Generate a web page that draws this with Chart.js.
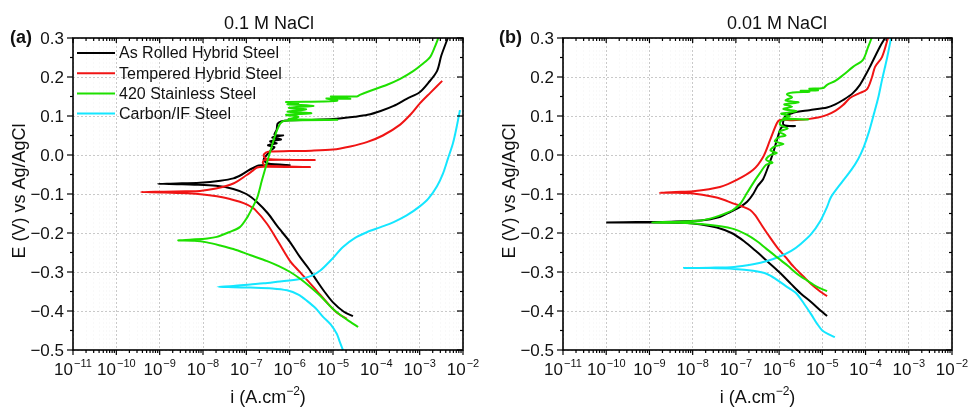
<!DOCTYPE html>
<html>
<head>
<meta charset="utf-8">
<title>Potentiodynamic polarisation curves</title>
<script src="https://cdn.jsdelivr.net/npm/chart.js@4.4.1/dist/chart.umd.min.js"></script>
<style>
  html, body { margin: 0; padding: 0; background: #fff; }
  #wrap { position: relative; width: 968px; height: 408px; overflow: hidden; }
  canvas { position: absolute; top: 0; }
  #panelA { left: 0; }
  #panelB { left: 490px; }
</style>
</head>
<body>
<div id="wrap">
  <canvas id="panelA" width="490" height="408"></canvas>
  <canvas id="panelB" width="478" height="408"></canvas>
</div>
<script>
// Each curve runs from the cathodic end, through Ecorr, then up the anodic branch.
// Current is stored as log10(i / A.cm-2), potential as E (V vs Ag/AgCl).

// ---- 0.1 M NaCl ----
const rolledLogI01 = [-4.54, -4.75, -5.0, -5.2, -5.37, -5.55, -5.76, -6.0, -6.29, -6.5, -6.75, -7.0, -7.3, -7.7, -8.2, -8.6, -9.04,
  -8.6, -8.07, -7.6, -7.3, -7.1, -6.96, -6.82, -6.72, -6.3, -6.0, -6.5, -6.6, -6.55, -6.45, -6.35, -6.5, -6.3, -6.45, -6.2, -6.4,
  -6.15, -6.35, -6.3, -6.28, -6.2, -6.0, -5.5, -5.0, -4.5, -4.2, -3.9, -3.6, -3.3, -3.0, -2.8, -2.6, -2.5, -2.35];
const rolledE01 = [-0.413, -0.402, -0.378, -0.35, -0.323, -0.293, -0.262, -0.222, -0.182, -0.15, -0.121, -0.1, -0.087, -0.079, -0.076, -0.075, -0.074,
  -0.073, -0.071, -0.066, -0.06, -0.05, -0.04, -0.032, -0.027, -0.025, -0.026, -0.022, -0.012, -0.003, 0.01, 0.02, 0.025, 0.03, 0.035, 0.04, 0.045,
  0.05, 0.052, 0.065, 0.08, 0.086, 0.089, 0.09, 0.092, 0.098, 0.103, 0.113, 0.126, 0.144, 0.161, 0.185, 0.215, 0.255, 0.3];

const temperedLogI01 = [-4.68, -4.9, -5.1, -5.37, -5.6, -5.8, -5.99, -6.25, -6.52, -6.8, -6.97, -7.15, -7.4, -7.68, -8.0, -8.37, -8.9, -9.43,
  -8.9, -8.4, -8.07, -7.7, -7.3, -7.0, -6.85, -6.75, -6.6, -5.53, -6.55, -6.62, -6.58, -5.42, -6.52, -6.6, -6.55, -6.45, -6.0, -5.5,
  -5.0, -4.6, -4.22, -3.85, -3.45, -3.2, -2.99, -2.75, -2.48];
const temperedE01 = [-0.42, -0.405, -0.383, -0.349, -0.32, -0.296, -0.272, -0.225, -0.177, -0.14, -0.128, -0.12, -0.112, -0.106, -0.101, -0.098, -0.096, -0.095,
  -0.094, -0.093, -0.092, -0.086, -0.073, -0.052, -0.04, -0.032, -0.03, -0.031, -0.027, -0.02, -0.013, -0.013, -0.01, -0.002, 0.006, 0.009, 0.01, 0.011,
  0.014, 0.022, 0.033, 0.05, 0.078, 0.105, 0.133, 0.16, 0.19];

const ss420LogI01 = [-4.42, -4.6, -4.8, -5.0, -5.25, -5.53, -5.75, -5.99, -6.25, -6.52, -6.9, -7.3, -7.6, -7.91, -8.2, -8.57,
  -8.3, -7.9, -7.68, -7.4, -7.15, -6.98, -6.85, -6.75, -6.64, -6.52, -6.42, -6.32, -6.22, -6.12, -4.9, -6.02, -5.8, -6.08, -5.5,
  -6.05, -5.62, -6.02, -5.45, -6.05, -5.8, -6.08, -5.2, -4.9, -5.15, -4.6, -5.05, -4.45, -4.38, -4.15, -3.75, -3.45, -3.15, -2.95,
  -2.76, -2.65, -2.57];
const ss420E01 = [-0.441, -0.428, -0.413, -0.395, -0.366, -0.338, -0.318, -0.3, -0.285, -0.272, -0.257, -0.241, -0.232, -0.224, -0.22, -0.219,
  -0.217, -0.214, -0.21, -0.198, -0.185, -0.16, -0.133, -0.11, -0.065, -0.018, 0.02, 0.055, 0.08, 0.088, 0.09, 0.092, 0.098, 0.103, 0.107,
  0.111, 0.117, 0.121, 0.126, 0.13, 0.133, 0.136, 0.137, 0.139, 0.145, 0.144, 0.15, 0.15, 0.154, 0.164, 0.18, 0.195, 0.215, 0.232,
  0.251, 0.277, 0.3];

const carbonLogI01 = [-4.77, -4.85, -4.91, -5.05, -5.23, -5.4, -5.6, -5.8, -6.06, -6.4, -6.91, -7.3, -7.65,
  -7.3, -6.91, -6.6, -6.29, -5.76, -5.5, -5.3, -5.05, -4.77, -4.5, -4.22, -3.9, -3.6, -3.3, -2.99, -2.8, -2.6, -2.46, -2.35,
  -2.23, -2.15, -2.07];
const carbonE01 = [-0.5, -0.477, -0.459, -0.435, -0.415, -0.393, -0.374, -0.358, -0.347, -0.342, -0.34, -0.339, -0.338,
  -0.336, -0.332, -0.329, -0.325, -0.318, -0.31, -0.297, -0.27, -0.236, -0.213, -0.198, -0.185, -0.172, -0.155, -0.131, -0.112, -0.08, -0.047, -0.01,
  0.031, 0.07, 0.115];

// ---- 0.01 M NaCl ----
const rolledLogI001 = [-4.89, -5.05, -5.26, -5.5, -5.72, -6.0, -6.28, -6.55, -6.81, -7.1, -7.44, -7.8, -8.2, -8.7, -9.3, -10.0,
  -9.3, -8.5, -7.81, -7.4, -7.11, -6.9, -6.74, -6.6, -6.5, -6.37, -6.22, -6.14, -6.03, -5.93, -5.63, -5.9, -5.85, -5.68, -5.3,
  -4.89, -4.7, -4.52, -4.3, -4.13, -4.0, -3.9, -3.67, -3.55];
const rolledE001 = [-0.413, -0.398, -0.377, -0.355, -0.331, -0.3, -0.272, -0.245, -0.221, -0.2, -0.186, -0.178, -0.174, -0.173, -0.173, -0.173,
  -0.172, -0.171, -0.168, -0.16, -0.145, -0.133, -0.12, -0.1, -0.08, -0.062, -0.02, 0.005, 0.046, 0.072, 0.074, 0.078, 0.1, 0.108, 0.115,
  0.122, 0.13, 0.141, 0.158, 0.18, 0.205, 0.226, 0.277, 0.3];

const temperedLogI001 = [-4.89, -5.05, -5.26, -5.45, -5.66, -5.85, -6.05, -6.25, -6.42, -6.55, -6.67, -6.85, -7.07, -7.3, -7.53, -7.99, -8.4, -8.76,
  -8.4, -7.99, -7.37, -6.98, -6.6, -6.37, -6.21, -6.05, -5.98, -5.68, -5.33, -5.1, -4.89, -4.7, -4.52, -4.36, -4.15, -3.97, -3.85,
  -3.78, -3.62, -3.48];
const temperedE001 = [-0.362, -0.35, -0.331, -0.31, -0.287, -0.262, -0.236, -0.205, -0.177, -0.155, -0.141, -0.132, -0.124, -0.114, -0.107, -0.099, -0.097, -0.097,
  -0.095, -0.093, -0.082, -0.064, -0.038, -0.005, 0.038, 0.082, 0.09, 0.089, 0.092, 0.096, 0.103, 0.113, 0.128, 0.146, 0.158, 0.168, 0.2,
  0.226, 0.251, 0.3];

const ss420LogI001 = [-4.89, -5.12, -5.35, -5.58, -5.8, -6.05, -6.3, -6.51, -6.75, -7.04, -7.4, -7.81, -8.3, -8.94,
  -8.3, -7.81, -7.5, -7.27, -7.07, -6.9, -6.74, -6.6, -6.44, -6.3, -6.15, -6.3, -6.2, -6.05, -6.2, -6.1, -5.9, -6.1, -6.0, -5.85,
  -6.0, -5.8, -5.98, -5.93, -5.33, -5.9, -5.75, -5.95, -5.6, -5.9, -5.7, -5.88, -5.55, -5.85, -5.7, -5.82, -5.68, -5.3, -5.5, -5.1,
  -5.3, -4.98, -4.89, -4.7, -4.52, -4.29, -4.06, -3.94, -3.86];
const ss420E001 = [-0.349, -0.338, -0.322, -0.305, -0.284, -0.262, -0.24, -0.221, -0.204, -0.19, -0.182, -0.177, -0.174, -0.173,
  -0.171, -0.168, -0.16, -0.151, -0.141, -0.125, -0.097, -0.072, -0.046, -0.025, -0.02, -0.012, 0.0, 0.005, 0.012, 0.022, 0.028, 0.035, 0.046, 0.05,
  0.06, 0.068, 0.078, 0.09, 0.091, 0.094, 0.1, 0.106, 0.112, 0.118, 0.124, 0.13, 0.135, 0.14, 0.148, 0.155, 0.16, 0.162, 0.165, 0.166,
  0.17, 0.172, 0.18, 0.19, 0.205, 0.226, 0.244, 0.277, 0.3];

const carbonLogI001 = [-4.71, -4.85, -5.0, -5.12, -5.25, -5.42, -5.6, -5.82, -6.05, -6.28, -6.6, -7.04, -7.6, -8.2,
  -7.6, -7.04, -6.6, -6.28, -6.0, -5.72, -5.5, -5.26, -5.05, -4.89, -4.8, -4.55, -4.33, -4.17, -4.04, -3.92, -3.8, -3.7, -3.62,
  -3.5, -3.41];
const carbonE001 = [-0.467, -0.46, -0.45, -0.433, -0.41, -0.382, -0.355, -0.338, -0.32, -0.305, -0.297, -0.292, -0.29, -0.29,
  -0.289, -0.287, -0.28, -0.272, -0.261, -0.246, -0.228, -0.203, -0.17, -0.133, -0.108, -0.07, -0.038, -0.01, 0.021, 0.06, 0.108, 0.15, 0.192,
  0.25, 0.3];

const seriesNames = ["As Rolled Hybrid Steel", "Tempered Hybrid Steel", "420 Stainless Steel", "Carbon/IF Steel"];
const seriesColors = ["#000000", "#f01414", "#1ee000", "#14e6ff"];
const drawOrder = [3, 2, 0, 1];

const currentExps = [-11, -10, -9, -8, -7, -6, -5, -4, -3, -2];
const potentialTicks = [-0.5, -0.4, -0.3, -0.2, -0.1, 0.0, 0.1, 0.2, 0.3];

const FONT = "'Liberation Sans', Arial, Helvetica, sans-serif";
const INK = "#111111";

function toPoints(logI, pot) {
  return logI.map((v, k) => ({ x: Math.pow(10, v), y: pot[k] }));
}

function formatPotential(v) {
  const s = Math.abs(v).toFixed(1);
  return v < -1e-9 ? "\u2212" + s : s;
}

// superscripted "10^n" label centred on x
function drawPower(ctx, x, y, exp) {
  const base = "10";
  const sup = "\u2212" + Math.abs(exp);
  ctx.font = "17px " + FONT;
  const wb = ctx.measureText(base).width;
  ctx.font = "11px " + FONT;
  const ws = ctx.measureText(sup).width;
  const x0 = x - (wb + ws + 1) / 2;
  ctx.textAlign = "left";
  ctx.textBaseline = "alphabetic";
  ctx.font = "17px " + FONT;
  ctx.fillText(base, x0, y);
  ctx.font = "11px " + FONT;
  ctx.fillText(sup, x0 + wb + 1, y - 8);
}

function tickLine(ctx, x1, y1, x2, y2) {
  ctx.beginPath();
  ctx.moveTo(x1, y1);
  ctx.lineTo(x2, y2);
  ctx.stroke();
}

// frame, tick marks, labels, titles and legend (Origin-style axes)
const panelDecor = {
  id: "panelDecor",
  afterDraw(chart, args, opts) {
    const { ctx, chartArea: area } = chart;
    const xs = chart.scales.x;
    const ys = chart.scales.y;
    ctx.save();
    ctx.strokeStyle = "#000";
    ctx.fillStyle = INK;

    // tick marks: outward on left/bottom, inward on top/right
    ctx.lineWidth = 1.2;
    xs.ticks.forEach((t) => {
      const px = xs.getPixelForValue(t.value);
      const len = t.major ? 5 : 3;
      tickLine(ctx, px, area.bottom, px, area.bottom + len);
      tickLine(ctx, px, area.top, px, area.top + len);
    });
    ys.ticks.forEach((t) => {
      const py = ys.getPixelForValue(t.value);
      const len = t.major ? 6 : 3;
      tickLine(ctx, area.left - len, py, area.left, py);
      tickLine(ctx, area.right - len, py, area.right, py);
    });

    ctx.lineWidth = 1.6;
    ctx.strokeRect(area.left, area.top, area.right - area.left, area.bottom - area.top);

    // y tick labels
    ctx.font = "17px " + FONT;
    ctx.textAlign = "right";
    ctx.textBaseline = "middle";
    potentialTicks.forEach((v) => {
      ctx.fillText(formatPotential(v), area.left - 9, ys.getPixelForValue(v) + 1);
    });

    // x tick labels
    currentExps.forEach((e) => {
      drawPower(ctx, xs.getPixelForValue(Number("1e" + e)), area.bottom + 25, e);
    });

    // x axis title: i (A.cm^-2)
    const cx = (area.left + area.right) / 2;
    ctx.font = "18px " + FONT;
    const w1 = ctx.measureText("i (A.cm").width;
    const w3 = ctx.measureText(")").width;
    ctx.font = "12px " + FONT;
    const w2 = ctx.measureText("\u22122").width;
    const tx = cx - (w1 + w2 + w3) / 2;
    ctx.textAlign = "left";
    ctx.textBaseline = "alphabetic";
    ctx.font = "18px " + FONT;
    ctx.fillText("i (A.cm", tx, 403);
    ctx.font = "12px " + FONT;
    ctx.fillText("\u22122", tx + w1, 395);
    ctx.font = "18px " + FONT;
    ctx.fillText(")", tx + w1 + w2, 403);

    // y axis title
    ctx.save();
    ctx.translate(25, (area.top + area.bottom) / 2 - 3);
    ctx.rotate(-Math.PI / 2);
    ctx.textAlign = "center";
    ctx.font = "18px " + FONT;
    ctx.fillText("E (V) vs Ag/AgCl", 0, 0);
    ctx.restore();

    // panel title and letter
    ctx.textAlign = "center";
    ctx.font = "18px " + FONT;
    ctx.fillText(opts.title, opts.titleX, 29);
    ctx.textAlign = "left";
    ctx.font = "bold 18px " + FONT;
    ctx.fillText(opts.tag, opts.tagX, 43);

    // legend inside the plot
    if (opts.legend) {
      ctx.font = "16px " + FONT;
      ctx.textBaseline = "middle";
      chart.data.datasets.forEach((ds, k) => {
        const ly = 53 + k * 20.2;
        ctx.strokeStyle = ds.borderColor;
        ctx.lineWidth = 2;
        tickLine(ctx, 77, ly, 115, ly);
        ctx.fillText(ds.label, 119, ly + 1);
      });
    }
    ctx.restore();
  },
};

function makePanel(canvasId, curves, decor, padRight) {
  const datasets = curves.map((c, k) => ({
    label: seriesNames[k],
    data: toPoints(c[0], c[1]),
    borderColor: seriesColors[k],
    backgroundColor: seriesColors[k],
    borderWidth: 2,
    pointRadius: 0,
    showLine: true,
    tension: 0.3,
    fill: false,
    order: drawOrder[k],
  }));

  return new Chart(document.getElementById(canvasId), {
    type: "scatter",
    data: { datasets: datasets },
    plugins: [panelDecor],
    options: {
      responsive: false,
      animation: false,
      events: [],
      layout: { padding: { left: 73, top: 38, right: padRight, bottom: 58 } },
      plugins: {
        legend: { display: false },
        tooltip: { enabled: false },
        panelDecor: decor,
      },
      scales: {
        x: {
          type: "logarithmic",
          min: 1e-11,
          max: 1e-2,
          ticks: { display: false },
          afterBuildTicks: (scale) => {
            const ticks = [];
            currentExps.forEach((e, k) => {
              ticks.push({ value: Number("1e" + e), major: true });
              if (k < currentExps.length - 1) {
                for (let m = 2; m <= 9; m++) ticks.push({ value: Number(m + "e" + e), major: false });
              }
            });
            scale.ticks = ticks;
          },
          grid: {
            drawTicks: false,
            lineWidth: 1,
            color: (c) => (c.tick && c.tick.major ? "#c9c9c9" : "rgba(0,0,0,0.025)"),
          },
          border: { display: false, dash: [2, 2] },
        },
        y: {
          type: "linear",
          min: -0.5,
          max: 0.3,
          ticks: { display: false },
          afterBuildTicks: (scale) => {
            const ticks = [];
            potentialTicks.forEach((v, k) => {
              ticks.push({ value: v, major: true });
              if (k < potentialTicks.length - 1) ticks.push({ value: (v + potentialTicks[k + 1]) / 2, major: false });
            });
            scale.ticks = ticks;
          },
          grid: {
            drawTicks: false,
            lineWidth: 1,
            color: (c) => (c.tick && c.tick.major ? "#c9c9c9" : "rgba(0,0,0,0)"),
          },
          border: { display: false, dash: [2, 2] },
        },
      },
    },
  });
}

makePanel(
  "panelA",
  [
    [rolledLogI01, rolledE01],
    [temperedLogI01, temperedE01],
    [ss420LogI01, ss420E01],
    [carbonLogI01, carbonE01],
  ],
  { title: "0.1 M NaCl", titleX: 269, tag: "(a)", tagX: 10, legend: true },
  27
);

makePanel(
  "panelB",
  [
    [rolledLogI001, rolledE001],
    [temperedLogI001, temperedE001],
    [ss420LogI001, ss420E001],
    [carbonLogI001, carbonE001],
  ],
  { title: "0.01 M NaCl", titleX: 287, tag: "(b)", tagX: 9, legend: false },
  16
);
</script>
</body>
</html>
